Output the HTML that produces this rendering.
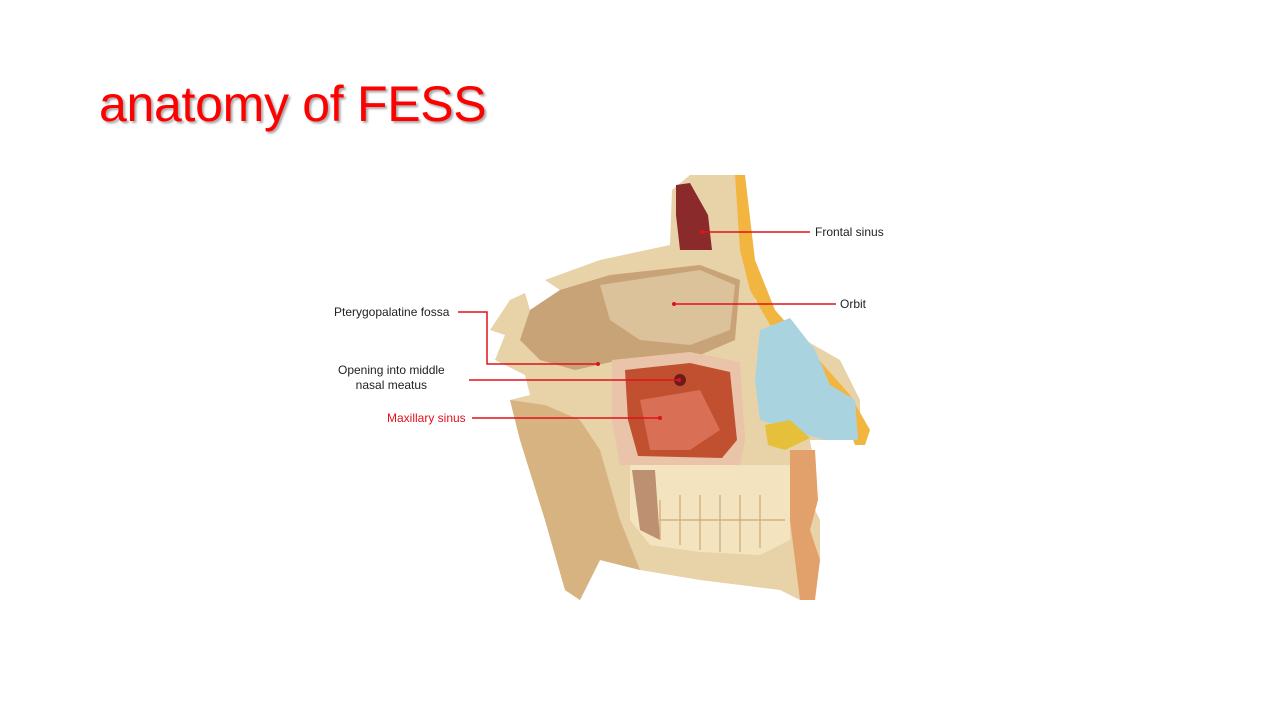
<!DOCTYPE html>
<html><head><meta charset="utf-8"><style>
html,body{margin:0;padding:0;background:#fff;}
body{width:1280px;height:720px;position:relative;overflow:hidden;font-family:"Liberation Sans",sans-serif;}
h1{position:absolute;left:99px;top:75px;margin:0;font-weight:normal;font-size:50px;color:#f00;text-shadow:2px 2px 2px rgba(0,0,0,0.35);letter-spacing:-0.3px;}
.l{position:absolute;font-size:12px;color:#222;white-space:nowrap;}
</style></head><body>
<h1>anatomy of FESS</h1>
<svg width="1280" height="720" style="position:absolute;left:0;top:0">
<path d="M510 300 L525 293 L530 310 L560 290 L545 280 L600 260 L670 245 L672 190 L690 175 L735 175 L745 250 L755 300 L770 320 L840 360 L860 400 L860 440 L810 440 L815 470 L810 500 L820 520 L820 560 L812 600 L800 600 L780 590 L700 580 L640 570 L600 560 L580 600 L565 590 L545 520 L520 440 L510 400 L530 395 L525 375 L495 360 L505 335 L490 330 Z" fill="#e8d2a8"/>
<path d="M530 310 L560 290 L610 275 L700 265 L740 280 L735 340 L700 355 L620 360 L575 370 L540 360 L520 340 Z" fill="#c8a377"/>
<path d="M600 285 L700 270 L735 285 L730 330 L690 345 L640 340 L610 320 Z" fill="#dcc29a"/>
<path d="M510 400 L545 405 L580 420 L600 450 L620 520 L640 570 L600 560 L580 600 L565 590 L545 520 L520 440 Z" fill="#d7b381"/>
<path d="M676 185 L690 183 L708 215 L712 250 L680 250 L676 215 Z" fill="#8a2a2a"/>
<path d="M735 175 L745 175 L755 260 L775 310 L850 395 L870 430 L865 445 L855 445 L840 405 L770 325 L750 290 L740 250 Z" fill="#f2b640"/>
<path d="M760 330 L790 318 L815 350 L830 385 L855 400 L858 440 L825 440 L790 430 L760 420 L755 380 Z" fill="#a9d3df"/>
<path d="M765 425 L790 420 L810 438 L785 450 L768 445 Z" fill="#e6c03a"/>
<path d="M790 450 L815 450 L818 500 L810 530 L820 560 L815 600 L800 600 L795 560 L790 520 Z" fill="#e2a06a"/>
<path d="M612 360 L690 352 L740 362 L745 440 L740 465 L620 465 L612 420 Z" fill="#e9c4a8"/>
<path d="M625 370 L690 363 L730 372 L737 440 L722 458 L638 456 L628 420 Z" fill="#c0502f"/>
<path d="M640 400 L700 390 L720 430 L690 450 L650 450 Z" fill="#d97055"/>
<circle cx="680" cy="380" r="6" fill="#6a1c1c"/>
<path d="M630 465 L790 465 L790 540 L760 555 L700 552 L650 545 L630 520 Z" fill="#f3e4bf"/>
<path d="M632 470 L655 470 L660 540 L640 530 Z" fill="#8a3b26" opacity="0.5"/>
<g stroke="#c9a878" stroke-width="1.2" fill="none">
<path d="M660 500 L660 540 M680 495 L680 545 M700 495 L700 550 M720 495 L720 552 M740 495 L740 552 M760 495 L760 548 M660 520 L785 520"/>
</g>
<g stroke="#e0121b" stroke-width="1.5" fill="none">
<line x1="702" y1="232" x2="810" y2="232"/>
<line x1="674" y1="304" x2="836" y2="304"/>
<polyline points="458,312 487,312 487,364 598,364"/>
<line x1="469" y1="380" x2="679" y2="380"/>
<line x1="472" y1="418" x2="660" y2="418"/>
</g>
<g fill="#e0121b"><circle cx="702" cy="232" r="2"/><circle cx="674" cy="304" r="2"/><circle cx="598" cy="364" r="2"/><circle cx="679" cy="380" r="2"/><circle cx="660" cy="418" r="2"/></g>
</svg>
<div class="l" style="left:815px;top:225px">Frontal sinus</div>
<div class="l" style="left:840px;top:297px">Orbit</div>
<div class="l" style="left:334px;top:305px">Pterygopalatine fossa</div>
<div class="l" style="left:338px;top:363px;text-align:center;line-height:15px">Opening into middle<br>nasal meatus</div>
<div class="l" style="left:387px;top:411px;color:#e0121b">Maxillary sinus</div>
</body></html>
